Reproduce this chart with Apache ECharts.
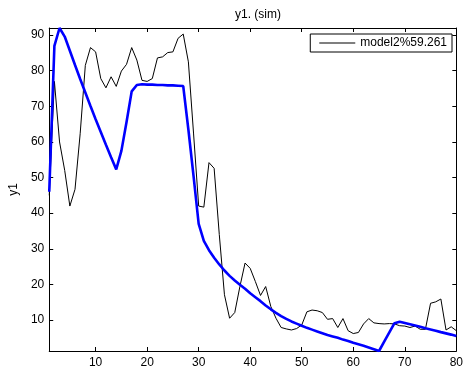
<!DOCTYPE html>
<html>
<head>
<meta charset="utf-8">
<script src="https://cdn.jsdelivr.net/npm/echarts@6/dist/echarts.min.js"></script>
<style>
html,body{margin:0;padding:0;background:#fff;}
#chart{width:466px;height:370px;}
</style>
</head>
<body>
<div id="chart"></div>
<script>
var samples = [1,2,3,4,5,6,7,8,9,10,11,12,13,14,15,16,17,18,19,20,
  21,22,23,24,25,26,27,28,29,30,31,32,33,34,35,36,37,38,39,40,
  41,42,43,44,45,46,47,48,49,50,51,52,53,54,55,56,57,58,59,60,
  61,62,63,64,65,66,67,68,69,70,71,72,73,74,75,76,77,78,79,80];

var measured = [45,77,60,52,42,46.7,62.3,81.5,86.5,85.3,
  77.8,75.2,78.3,75.6,79.9,81.8,86.5,83,77.3,77,
  77.8,83.6,83.9,85.1,85.3,89.1,90.3,82.5,62.5,42,
  41.7,54.2,52.6,34,17.1,10.5,12.1,19.4,26,24.5,
  20.8,16.9,19.4,13.8,10.5,7.9,7.5,7.2,7.6,8.6,
  12.3,12.8,12.6,12.1,10.2,10.4,7.9,10.4,7.0,6.2,
  6.5,8.9,10.4,9.2,9.0,8.9,9.0,8.9,8.4,8.3,
  7.9,8.3,7.4,7.4,14.7,15.1,15.9,7.2,8.1,7.0];

var simulated = [46,87,92,89.6,85.6,81.6,77.7,73.9,70.1,66.4,
  62.8,59.2,55.7,52.3,57.5,65.6,74.2,76,76.2,76.1,
  76.1,76,76,75.9,75.9,75.8,75.7,63.5,50.5,37,
  32.2,29.6,27.5,25.6,23.9,22.4,21.1,19.9,18.8,17.5,
  16.4,15.3,14.1,13.0,12.0,11.1,10.3,9.6,9.0,8.4,
  7.8,7.3,6.8,6.3,5.8,5.4,5.0,4.5,4.1,3.6,
  3.2,2.8,2.3,1.8,1.3,3.9,6.5,9.1,9.5,9.15,
  8.8,8.45,8.1,7.7,7.35,7.0,6.6,6.25,5.9,5.5];

var xTicks = [10,20,30,40,50,60,70,80];
var yTicks = [10,20,30,40,50,60,70,80,90];
var legendName = 'model2%59.261';
var titleText = 'y1. (sim)';
var yName = 'y1';

function pairs(xs, ys){ return xs.map(function(x,i){ return [x, ys[i]]; }); }

var FONT = 'Liberation Sans';
var axisLineStyle = {color:'#000', width:1};
function xAx(pos, showLabel){
  return {type:'value', position:pos, min:1, max:80,
    axisLine:{show:true, onZero:false, lineStyle:axisLineStyle},
    axisTick:{show:true, inside:true, length:4, customValues:xTicks, lineStyle:{color:'#000'}},
    axisLabel:{show:showLabel, customValues:xTicks, color:'#000', fontFamily:FONT, fontSize:12, margin:6},
    splitLine:{show:false}};
}
function yAx(pos, showLabel){
  var a = {type:'value', position:pos, min:1.3, max:92,
    axisLine:{show:true, onZero:false, lineStyle:axisLineStyle},
    axisTick:{show:true, inside:true, length:4, customValues:yTicks, lineStyle:{color:'#000'}},
    axisLabel:{show:showLabel, customValues:yTicks, color:'#000', fontFamily:FONT, fontSize:12, margin:5},
    splitLine:{show:false}};
  if (showLabel) {
    a.name = yName; a.nameLocation = 'middle'; a.nameGap = 27;
    a.nameTextStyle = {color:'#000', fontFamily:FONT, fontSize:12};
  }
  return a;
}

var chart = echarts.init(document.getElementById('chart'), null, {renderer:'canvas'});
chart.setOption({
  animation:false,
  backgroundColor:'#fff',
  title:{text:titleText, left:253, textAlign:'center', top:4,
    textStyle:{color:'#000', fontFamily:FONT, fontSize:12, fontWeight:'normal'}},
  grid:{left:49, right:9, top:28, bottom:19, containLabel:false},
  legend:{show:true, data:[{name:legendName, icon:'rect'}], right:14, top:34,
    backgroundColor:'#fff', borderColor:'#000', borderWidth:1, borderRadius:0,
    padding:[3,5,3,9], itemWidth:36, itemHeight:1, itemGap:4,
    itemStyle:{color:'#000', borderWidth:0},
    textStyle:{color:'#000', fontFamily:FONT, fontSize:12, padding:[0,0,0,0]}},
  xAxis:[xAx('bottom', true), xAx('top', false)],
  yAxis:[yAx('left', true), yAx('right', false)],
  series:[
    {name:legendName, type:'line', xAxisIndex:0, yAxisIndex:0, data:pairs(samples, measured),
      symbol:'none', lineStyle:{color:'#000', width:1}, itemStyle:{color:'#000'}, z:2},
    {name:'sim', type:'line', xAxisIndex:0, yAxisIndex:0, data:pairs(samples, simulated),
      symbol:'none', lineStyle:{color:'#0000ff', width:2.6}, itemStyle:{color:'#0000ff'}, z:3}
  ]
});
</script>
</body>
</html>
